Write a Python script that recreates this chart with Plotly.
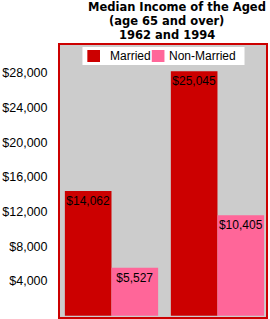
import plotly.graph_objects as go

years = ["1962", "1994"]
series_names = ["Married", "Non-Married"]
series_colors = ["#CC0000", "#FF6699"]
# bar heights as drawn in the reference picture
married_heights = [14380, 28200]
nonmarried_heights = [5527, 11600]
# value labels printed on the bars
married_labels = ["$14,062", "$25,045"]
nonmarried_labels = ["$5,527", "$10,405"]
tick_values = [4000, 8000, 12000, 16000, 20000, 24000, 28000]
tick_labels = ["$4,000", "$8,000", "$12,000", "$16,000", "$20,000", "$24,000", "$28,000"]
title_lines = ["Median Income of the Aged", "(age 65 and over)", "1962 and 1994"]

xpos = list(range(len(years)))
font_family = "Liberation Sans, Arial, sans-serif"
title_family = "DejaVu Sans, Liberation Sans, sans-serif"

# plot area in pixels
PL, PR, PT, PB = 56, 267, 45, 317


def px(x):
    return (x - PL) / (PR - PL)


def py(y):
    return (PB - y) / (PB - PT)


fig = go.Figure()
for heights, labels, name, color in zip(
    [married_heights, nonmarried_heights],
    [married_labels, nonmarried_labels],
    series_names, series_colors,
):
    fig.add_trace(go.Bar(
        x=xpos, y=heights, name=name,
        marker=dict(color=color, line=dict(width=0)),
        text=labels, textposition="inside", insidetextanchor="end",
        constraintext="none", textangle=0,
        textfont=dict(color="black", size=12, family=font_family),
        showlegend=False,
    ))

# title lines
line_centers = [176, 165, 166]
line_y = [7, 21, 35]
for t, cx, cy in zip(title_lines, line_centers, line_y):
    fig.add_annotation(
        text="<b>" + t + "</b>", xref="paper", yref="paper",
        x=px(cx), y=py(cy), xanchor="center", yanchor="middle",
        showarrow=False, borderpad=0,
        font=dict(size=11.5, color="black", family=title_family),
    )

# legend box drawn by hand
shapes = [dict(type="rect", xref="paper", yref="paper",
               x0=px(79), x1=px(245), y0=py(65), y1=py(47),
               fillcolor="white", line=dict(width=0), layer="above")]
swatch_x = [84, 150]
text_x = [106, 167]
for sx, tx, name, color in zip(swatch_x, text_x, series_names, series_colors):
    shapes.append(dict(type="rect", xref="paper", yref="paper",
                       x0=px(sx), x1=px(sx + 13), y0=py(62), y1=py(50),
                       fillcolor=color, line=dict(width=0), layer="above"))
    fig.add_annotation(
        text=name, xref="paper", yref="paper", x=px(tx), y=py(56),
        xanchor="left", yanchor="middle", showarrow=False, borderpad=0,
        font=dict(size=12, color="black", family=font_family),
    )

fig.update_layout(
    width=270, height=319,
    margin=dict(l=PL, r=270 - PR, t=PT, b=319 - PB, pad=0),
    paper_bgcolor="white", plot_bgcolor="#CCCCCC",
    barmode="group", bargap=0.12, bargroupgap=0,
    showlegend=False,
    shapes=shapes,
    font=dict(family=font_family, size=12, color="black"),
    xaxis=dict(
        range=[-0.486, 1.458], showticklabels=False, ticks="",
        showgrid=False, zeroline=False,
        showline=True, mirror=True, linecolor="#CC0000", linewidth=2,
        fixedrange=True,
    ),
    yaxis=dict(
        range=[-150, 31235], tickvals=tick_values, ticktext=tick_labels,
        ticks="outside", ticklen=8, tickcolor="rgba(0,0,0,0)",
        showgrid=False, zeroline=False,
        showline=True, mirror=True, linecolor="#CC0000", linewidth=2,
        tickfont=dict(size=12.5, color="black", family=font_family),
        fixedrange=True,
    ),
)

fig.write_html("out.html", config={"displayModeBar": False})
